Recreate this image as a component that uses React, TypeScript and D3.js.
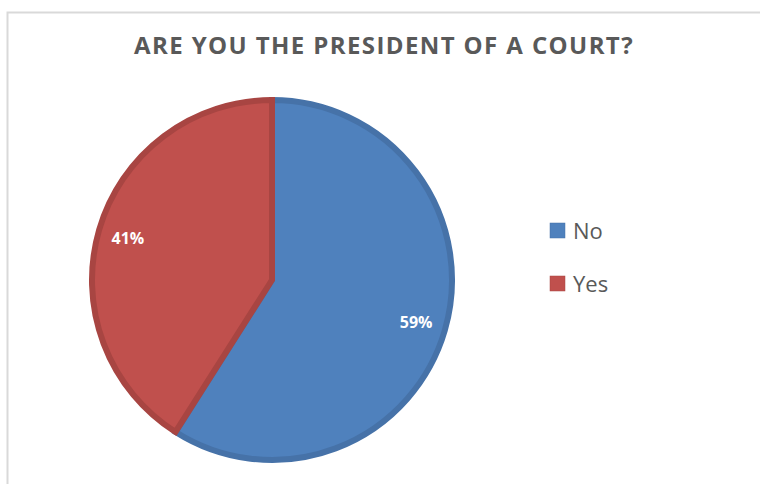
import React from "react";
import * as d3 from "d3";

const categories = ["No", "Yes"];
const values = [59, 41];
const colors = ["#4F81BD", "#C0504D"];
const strokes = ["#4672A8", "#A84542"];
const title = "ARE YOU THE PRESIDENT OF A COURT?";

export default function App() {
  const W = 760, H = 484;
  const cx = 272, cy = 280, r = 183;
  const pie = d3.pie<number>().sort(null).value((d) => d)(values);
  const arc = d3.arc<d3.PieArcDatum<number>>().innerRadius(0).outerRadius(r - 3);
  const labelArc = d3.arc<d3.PieArcDatum<number>>().innerRadius(r * 0.82).outerRadius(r * 0.82);
  const total = d3.sum(values);
  return (
    <svg width={W} height={H} style={{ position: "absolute", left: 0, top: 0 }}>
      <rect x={0} y={0} width={W} height={H} fill="#fff" />
      <rect x={7.5} y={12.5} width={W + 10} height={H + 10} fill="#fff" stroke="#D9D9D9" strokeWidth={2} />
      <text x={384} y={54} textAnchor="middle" fontFamily="'Open Sans', sans-serif" fontWeight="bold" fontSize={24} fill="#595959" letterSpacing={1.4}>
        {title}
      </text>
      <g transform={`translate(${cx},${cy})`}>
        {pie.map((p, i) => (
          <path key={i} d={arc(p) || ""} fill={colors[i]} stroke={strokes[i]} strokeWidth={6} strokeLinejoin="miter" />
        ))}
        {pie.map((p, i) => {
          const [x, y] = labelArc.centroid(p);
          return (
            <text key={"l" + i} x={x} y={y} textAnchor="middle" dominantBaseline="central" fontFamily="'Open Sans', sans-serif" fontWeight="bold" fontSize={16} fill="#fff">
              {Math.round((values[i] / total) * 100) + "%"}
            </text>
          );
        })}
      </g>
      {categories.map((c, i) => (
        <g key={c} transform={`translate(550,${223 + i * 53})`}>
          <rect x={0} y={0} width={15} height={15} fill={colors[i]} stroke={strokes[i]} strokeWidth={0.5} />
          <text x={23} y={16} fontFamily="'Open Sans', sans-serif" fontSize={22} fill="#595959">{c}</text>
        </g>
      ))}
    </svg>
  );
}
